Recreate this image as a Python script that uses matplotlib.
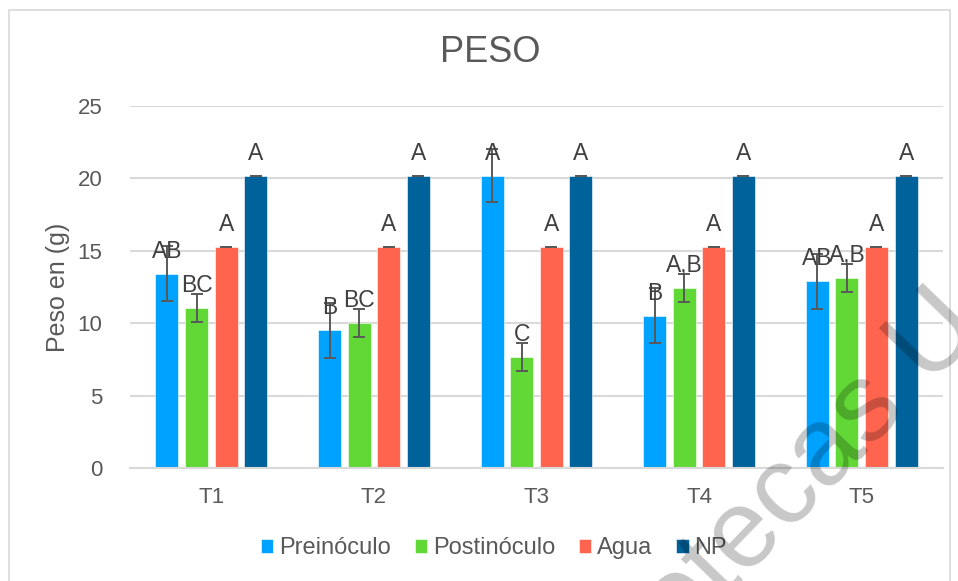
import matplotlib
matplotlib.use("Agg")
import matplotlib.pyplot as plt
import numpy as np
from matplotlib.patches import Rectangle

plt.rcParams['font.family'] = ['Liberation Sans', 'DejaVu Sans']

categories = ['T1', 'T2', 'T3', 'T4', 'T5']
series = ['Preinóculo', 'Postinóculo', 'Agua', 'NP']

preinoculo = [13.4, 9.5, 20.2, 10.5, 12.9]
postinoculo = [11.05, 10.0, 7.65, 12.4, 13.1]
agua = [15.25, 15.25, 15.25, 15.25, 15.25]
np_vals = [20.2, 20.2, 20.2, 20.2, 20.2]

err_pre = [1.9, 1.9, 1.85, 1.9, 1.9]
err_post = [0.95, 0.95, 0.95, 0.97, 0.97]
err_agua = [0, 0, 0, 0, 0]
err_np = [0, 0, 0, 0, 0]

lab_pre = ['AB', 'B', 'A', 'B', 'AB']
lab_post = ['BC', 'BC', 'C', 'A,B', 'A,B']
lab_agua = ['A', 'A', 'A', 'A', 'A']
lab_np = ['A', 'A', 'A', 'A', 'A']

colors = ['#00A2FF', '#61D836', '#FF644E', '#00629B']
grey = '#595959'

values = [preinoculo, postinoculo, agua, np_vals]
errors = [err_pre, err_post, err_agua, err_np]
labels = [lab_pre, lab_post, lab_agua, lab_np]

fig = plt.figure(figsize=(9.58, 5.81), dpi=100)
ax = fig.add_axes([130 / 958, 1 - 468 / 581, 813 / 958, 362 / 581])

# outer chart border
fig.patches.append(Rectangle((9 / 958, -0.1), 941 / 958, 1.1 - 10 / 581,
                             transform=fig.transFigure, fill=False,
                             edgecolor='#d9d9d9', linewidth=1.2))

x = np.arange(len(categories))
width = 0.142
pitch = 0.182
for i, name in enumerate(series):
    pos = x + (i - 1.5) * pitch
    ax.bar(pos, values[i], width, color=colors[i], label=name,
           edgecolor='white', linewidth=0.4, zorder=2)
    ax.errorbar(pos, values[i], yerr=errors[i], fmt='none', ecolor=grey,
                elinewidth=1.4, capsize=4.5, capthick=1.4, zorder=3)
    for p, v, t in zip(pos, values[i], labels[i]):
        ax.annotate(t, (p, v), xytext=(0, 11.5), textcoords='offset points',
                    ha='center', va='baseline', fontsize=16.5, color='#404040',
                    zorder=4)

ax.set_xlim(-0.5, 4.5)
ax.set_ylim(0, 25)
ax.set_yticks(range(0, 26, 5))
ax.set_xticks(x)
ax.set_xticklabels(categories)
ax.tick_params(length=0, labelsize=16, labelcolor=grey)
ax.tick_params(axis='x', pad=14)
ax.tick_params(axis='y', pad=20)
ax.grid(axis='y', color='#d9d9d9', linewidth=1.5, zorder=0)
ax.set_axisbelow(True)
for s in ['top', 'right', 'left']:
    ax.spines[s].set_visible(False)
ax.spines['bottom'].set_color('#d9d9d9')
ax.spines['bottom'].set_linewidth(1.5)

ax.set_ylabel('Peso en (g)', fontsize=18, color=grey, labelpad=5)
fig.text(490 / 958, 1 - 52 / 581, 'PESO', ha='center', va='center',
         fontsize=26, color=grey)

fig.legend(loc='center', bbox_to_anchor=(494 / 958, 1 - 548 / 581), ncol=4,
           frameon=False, fontsize=17, handlelength=0.53, handleheight=0.53,
           handletextpad=0.25, columnspacing=1.0, labelcolor=grey)

# watermark from the source image
fig.text(985 / 958, 1 - 330 / 581, 'Bibliotecas U', ha='right', va='baseline',
         rotation=46, rotation_mode='anchor', fontsize=80, color='#000000',
         alpha=0.22, zorder=10)

fig.savefig('out.png', dpi=100)
